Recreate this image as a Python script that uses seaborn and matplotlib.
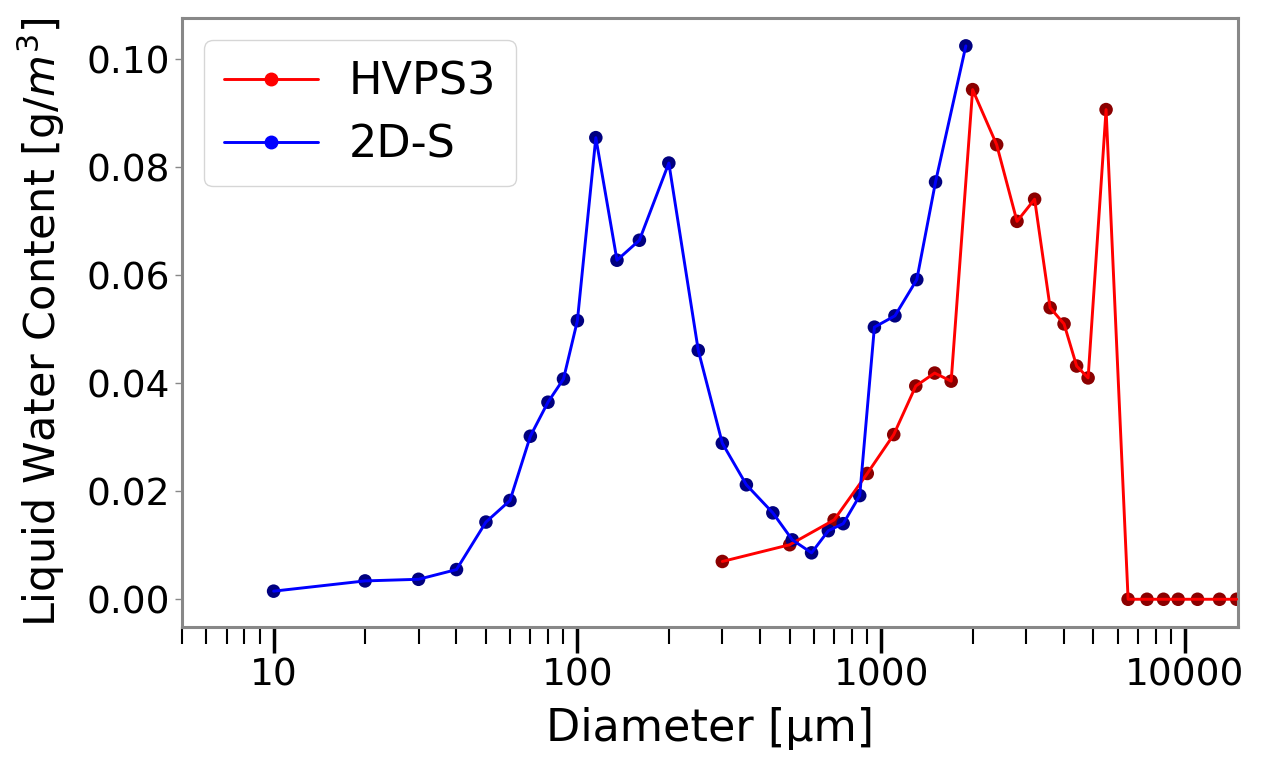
import matplotlib
matplotlib.use("Agg")
import matplotlib.pyplot as plt
import matplotlib.ticker as mticker
from matplotlib.lines import Line2D
import seaborn as sns
import pandas as pd

# HVPS3 probe
hvps3_diam = [300, 500, 700, 900, 1100, 1300, 1500, 1700, 2000, 2400, 2800, 3200,
              3600, 4000, 4400, 4800, 5500, 6500, 7500, 8500, 9500, 11000, 13000, 14800]
hvps3_lwc = [0.0070, 0.0101, 0.0147, 0.0233, 0.0305, 0.0395, 0.0419, 0.0404, 0.0944, 0.0842,
             0.0700, 0.0741, 0.0540, 0.0510, 0.0432, 0.0410, 0.0907, 0.0, 0.0, 0.0,
             0.0, 0.0, 0.0, 0.0]

# 2D-S probe
ds_diam = [10, 20, 30, 40, 50, 60, 70, 80, 90, 100, 115, 135, 160, 200, 250, 300,
           360, 440, 510, 590, 670, 750, 850, 950, 1110, 1310, 1510, 1900]
ds_lwc = [0.0015, 0.0034, 0.0037, 0.0055, 0.0143, 0.0183, 0.0302, 0.0365, 0.0408, 0.0516,
          0.0855, 0.0628, 0.0665, 0.0808, 0.0461, 0.0289, 0.0212, 0.0160, 0.0110, 0.0086,
          0.0127, 0.0140, 0.0192, 0.0504, 0.0525, 0.0592, 0.0773, 0.1025]

hvps = pd.DataFrame({"Diameter": hvps3_diam, "LWC": hvps3_lwc})
ds = pd.DataFrame({"Diameter": ds_diam, "LWC": ds_lwc})

sns.set_style("white")
plt.rcParams["text.color"] = "black"
plt.rcParams["axes.labelcolor"] = "black"
plt.rcParams["xtick.color"] = "black"
plt.rcParams["ytick.color"] = "black"

fig = plt.figure(figsize=(12.65, 7.59), dpi=100)
ax = fig.add_axes([0.144, 0.174, 0.835, 0.802])

# dark markers under the lines
sns.scatterplot(data=hvps, x="Diameter", y="LWC", color="darkred", s=95,
                edgecolor="none", ax=ax, zorder=2, legend=False)
sns.scatterplot(data=ds, x="Diameter", y="LWC", color="navy", s=95,
                edgecolor="none", ax=ax, zorder=2, legend=False)
sns.lineplot(data=hvps, x="Diameter", y="LWC", color="red", linewidth=2.1,
             ax=ax, zorder=3, legend=False)
sns.lineplot(data=ds, x="Diameter", y="LWC", color="blue", linewidth=2.1,
             ax=ax, zorder=3, legend=False)

ax.set_xscale("log")
ax.set_xlim(5, 15000)
ax.xaxis.set_major_formatter(mticker.FuncFormatter(lambda v, p: f"{v:g}"))
ax.xaxis.set_minor_formatter(mticker.NullFormatter())

for s in ax.spines.values():
    s.set_color("#888888")
    s.set_linewidth(2.2)

ax.tick_params(axis="x", which="major", bottom=True, length=19, width=2.5,
               color="black", labelsize=27, pad=3)
ax.tick_params(axis="x", which="minor", bottom=True, length=12, width=1.5,
               color="black")
ax.tick_params(axis="y", left=True, length=5, width=1, color="#888888",
               labelsize=27, pad=4)

ax.set_xlabel("Diameter [µm]", fontsize=32, labelpad=10)
ax.set_ylabel("Liquid Water Content [g/$m^3$]", fontsize=31, labelpad=14)

handles = [
    Line2D([], [], color="red", marker="o", markersize=9, linewidth=2.1),
    Line2D([], [], color="blue", marker="o", markersize=9, linewidth=2.1),
]
ax.legend(handles, ["HVPS3", "2D-S"], loc="upper left", fontsize=32,
          handlelength=2.1, handletextpad=0.7, borderpad=0.45, labelspacing=0.45,
          frameon=True)

fig.savefig("out.png", dpi=100)
